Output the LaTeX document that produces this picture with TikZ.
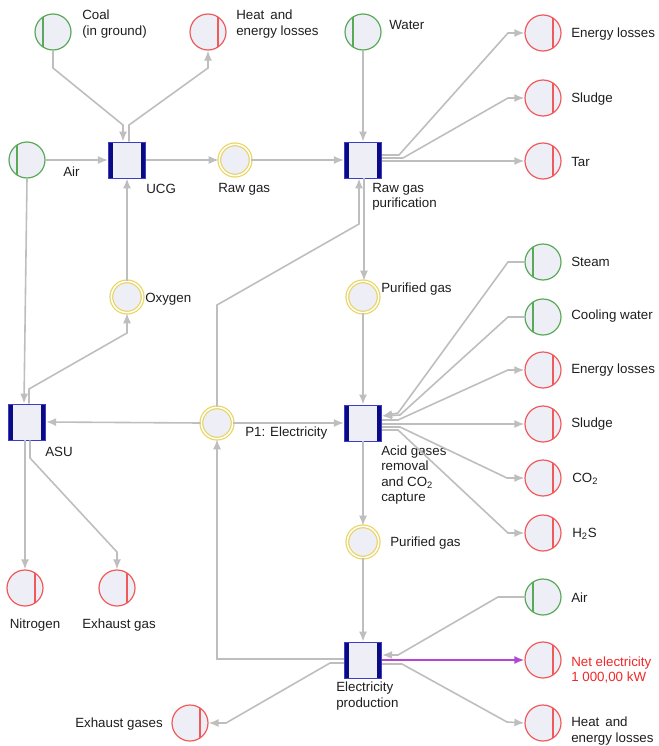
\documentclass[tikz,border=0pt]{standalone}
\usepackage{fontspec}
\setmainfont{Liberation Sans}
\usetikzlibrary{arrows.meta,calc}
\definecolor{srcg}{RGB}{88,170,88}
\definecolor{sinkr}{RGB}{240,90,90}
\definecolor{intery}{RGB}{232,212,95}
\definecolor{nodefill}{RGB}{238,238,247}
\definecolor{boxblue}{RGB}{60,60,200}
\definecolor{barnavy}{RGB}{10,10,130}
\definecolor{flowgray}{RGB}{190,190,190}
\definecolor{netpurple}{RGB}{180,70,210}
\definecolor{txt}{RGB}{30,30,30}
\definecolor{redtxt}{RGB}{240,40,40}
\begin{document}
\begin{tikzpicture}[x=0.75pt,y=-0.75pt,
  srcnode/.style={circle,draw=srcg,fill=nodefill,line width=0.9pt,minimum size=27pt,inner sep=0pt,
    path picture={\draw[srcg,line width=0.9pt] ([xshift=-7.5pt,yshift=-14pt]path picture bounding box.center) -- ([xshift=-7.5pt,yshift=14pt]path picture bounding box.center);}},
  sinknode/.style={circle,draw=sinkr,fill=nodefill,line width=0.9pt,minimum size=27pt,inner sep=0pt,
    path picture={\draw[sinkr,line width=0.9pt] ([xshift=7.5pt,yshift=-14pt]path picture bounding box.center) -- ([xshift=7.5pt,yshift=14pt]path picture bounding box.center);}},
  internode/.style={circle,draw=intery,double=white,double distance=1.1pt,line width=0.9pt,fill=nodefill,minimum size=23.5pt,inner sep=0pt},
  procbox/.style={rectangle,draw=boxblue,fill=nodefill,line width=0.6pt,minimum width=28pt,minimum height=27pt,inner sep=0pt,
    path picture={\fill[barnavy] (path picture bounding box.south west) rectangle ([xshift=3.7pt]path picture bounding box.north west);
      \fill[barnavy] ([xshift=-3.7pt]path picture bounding box.south east) rectangle (path picture bounding box.north east);}},
  lbl/.style={font=\fontsize{10}{11.5}\selectfont,text=txt,align=left,inner sep=0pt},
  flow/.style={draw=flowgray,line width=1.2pt,-{Latex[length=7.5pt,width=6pt]}},
  netflow/.style={draw=netpurple,line width=1.4pt,-{Latex[length=7.5pt,width=6pt]}}
]
\useasboundingbox (0,0) rectangle (659,746);

% nodes
\node[srcnode] (coal) at (53,32) {};
\node[sinknode] (heat1) at (208,32) {};
\node[srcnode] (airL) at (27,160) {};
\node[procbox] (ucg) at (127,160) {};
\node[internode] (rawgas) at (235,160) {};
\node[srcnode] (water) at (363,32) {};
\node[procbox] (rgp) at (363,160) {};
\node[sinknode] (el1) at (543,33) {};
\node[sinknode] (sludge1) at (543,98) {};
\node[sinknode] (tar) at (543,161) {};
\node[internode] (oxygen) at (127,297) {};
\node[internode] (pg1) at (363,297) {};
\node[srcnode] (steam) at (543,262) {};
\node[srcnode] (cw) at (543,317) {};
\node[sinknode] (el2) at (543,370) {};
\node[sinknode] (sludge2) at (543,424) {};
\node[sinknode] (co2) at (543,478) {};
\node[sinknode] (h2s) at (543,533) {};
\node[procbox] (asu) at (27,422) {};
\node[internode] (p1) at (217,423) {};
\node[procbox] (agr) at (363,423) {};
\node[internode] (pg2) at (363,542) {};
\node[sinknode] (nitrogen) at (25,588) {};
\node[sinknode] (exg) at (117,588) {};
\node[srcnode] (airR) at (543,597) {};
\node[procbox] (ep) at (363,660) {};
\node[sinknode] (net) at (543,660) {};
\node[sinknode] (heat2) at (543,723) {};
\node[sinknode] (exgs) at (190,723) {};

% labels
\node[lbl,anchor=west] (tcoal) at (82,24) {Coal\\(in ground)};
\node[lbl,anchor=west] (theat1) at (236,24) {Heat\,\ and\\energy losses};
\node[lbl,anchor=west] (tairL) at (63,172) {Air};
\node[lbl,anchor=west] (tucg) at (146,189) {UCG};
\node[lbl,anchor=west] (trawgas) at (218,189) {Raw gas};
\node[lbl,anchor=west] (twater) at (389,25) {Water};
\node[lbl,anchor=west] (tel1) at (571,34) {Energy losses};
\node[lbl,anchor=west] (tsludge1) at (571,99) {Sludge};
\node[lbl,anchor=west] (ttar) at (571,162) {Tar};
\node[lbl,anchor=west] (trgp) at (372,197) {Raw gas\\purification};
\node[lbl,anchor=west] (toxygen) at (145,299) {Oxygen};
\node[lbl,anchor=west] (tpg1) at (381,289) {Purified gas};
\node[lbl,anchor=west] (tsteam) at (571,262) {Steam};
\node[lbl,anchor=west] (tcw) at (571,316) {Cooling water};
\node[lbl,anchor=west] (tel2) at (571,370) {Energy losses};
\node[lbl,anchor=west] (tsludge2) at (571,424) {Sludge};
\node[lbl,anchor=west] (tco2) at (572,479) {CO\textsubscript{2}};
\node[lbl,anchor=west] (th2s) at (572,534) {H\textsubscript{2}S};
\node[lbl,anchor=west] (tasu) at (45,452) {ASU};
\node[lbl,anchor=west] (tp1) at (245,433) {P1: Electricity};
\node[lbl,anchor=west] (tagr) at (381,475) {Acid gases\\removal\\and CO\textsubscript{2}\\capture};
\node[lbl,anchor=west] (tpg2) at (390,543) {Purified gas};
\node[lbl] (tnitrogen) at (35,625) {Nitrogen};
\node[lbl] (texg) at (119,625) {Exhaust gas};
\node[lbl,anchor=east] (texgs) at (163,724) {Exhaust gases};
\node[lbl,anchor=west] (tairR) at (571,598) {Air};
\node[lbl,anchor=west] (tep) at (336,696) {Electricity\\production};
\node[lbl,anchor=west,text=redtxt] (tnet) at (571,670) {Net electricity\\1 000,00 kW};
\node[lbl,anchor=west] (theat2) at (571,731) {Heat\,\ and\\energy losses};

% connectors
\draw[flow] (coal.south) -- (53,68) -- (123,125) -- ($(ucg.north)+(-4,0)$);
\draw[flow] ($(ucg.north)+(2,0)$) -- (129,125) -- (208,68) -- (heat1.south);
\draw[flow] (airL.east) -- (ucg.west);
\draw[flow] (airL.south) -- ($(asu.north)+(-3,0)$);
\draw[flow] (ucg.east) -- (rawgas.west);
\draw[flow] (rawgas.east) -- (rgp.west);
\draw[flow] (oxygen.north) -- (ucg.south);
\draw[flow] ($(asu.north)+(2,0)$) -- (29,389) -- (127,333) -- (oxygen.south);
\draw[flow] (water.south) -- (rgp.north);
\draw[flow] ($(rgp.east)+(0,-5)$) -- (399,155) -- (508,33) -- (el1.west);
\draw[flow] ($(rgp.east)+(0,-2)$) -- (403,158) -- (508,98) -- (sludge1.west);
\draw[flow] ($(rgp.east)+(0,1)$) -- (tar.west);
\draw[flow] (p1.north) -- (217,305) -- (359,224) -- ($(rgp.south)+(-4,0)$);
\draw[flow] ($(rgp.south)+(1,0)$) -- ($(pg1.north)+(1,0)$);
\draw[flow] (pg1.south) -- (agr.north);
\draw[flow] (p1.east) -- (agr.west);
\draw[flow] (p1.west) -- (asu.east);
\draw[flow] (steam.west) -- (508,262) -- (398,413) -- ($(agr.east)+(0,-7)$);
\draw[flow] (cw.west) -- (508,317) -- (400,415) -- ($(agr.east)+(0,-7)$);
\draw[flow] ($(agr.east)+(0,-3)$) -- (398,420) -- (508,370) -- (el2.west);
\draw[flow] ($(agr.east)+(0,1)$) -- (sludge2.west);
\draw[flow] ($(agr.east)+(0,4)$) -- (400,427) -- (507,478) -- (co2.west);
\draw[flow] ($(agr.east)+(0,7)$) -- (398,430) -- (508,533) -- (h2s.west);
\draw[flow] (agr.south) -- (pg2.north);
\draw[flow] (pg2.south) -- (ep.north);
\draw[flow] ($(asu.south)+(-2,0)$) -- (nitrogen.north);
\draw[flow] ($(asu.south)+(3,0)$) -- (30,458) -- (117,552) -- (exg.north);
\draw[flow] ($(ep.west)+(0,-1)$) -- (217,659) -- (p1.south);
\draw[flow] ($(ep.west)+(0,3)$) -- (330,663) -- (226,723) -- (exgs.east);
\draw[flow] (airR.west) -- (498,597) -- (398,655) -- ($(ep.east)+(0,-5)$);
\draw[netflow] (ep.east) -- (net.west);
\draw[flow] ($(ep.east)+(0,4)$) -- (402,664) -- (507,722) -- (heat2.west);
\end{tikzpicture}
\end{document}
